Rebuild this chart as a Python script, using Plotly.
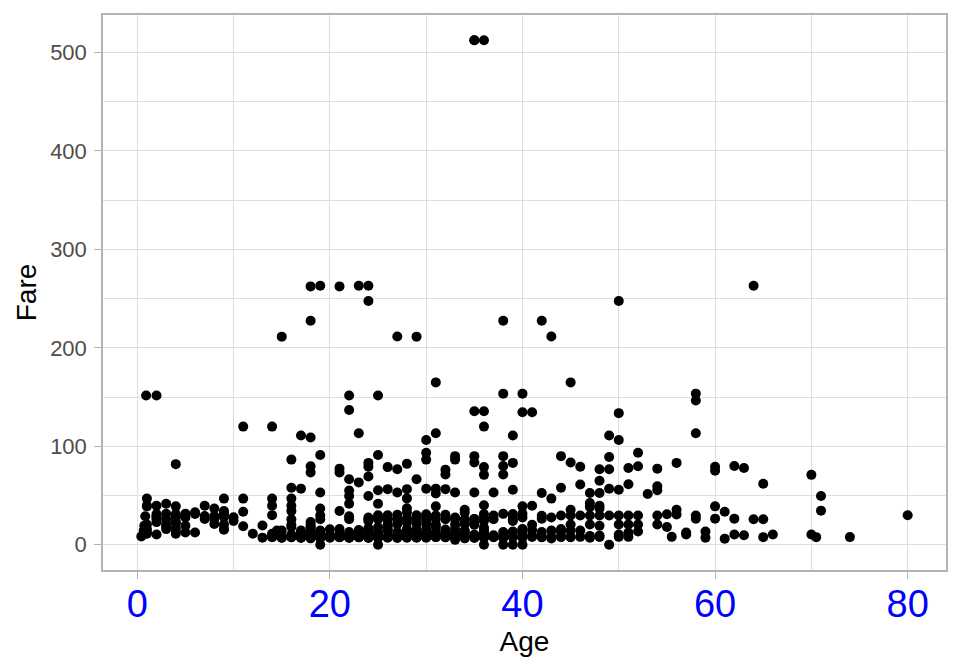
import plotly.graph_objects as go

# Ages (one entry per age value) and the fares observed at that age
age_values = [
    0.42, 0.67, 0.75, 0.83, 0.92, 1, 2, 3, 4, 5, 6, 7, 8, 9, 10, 11, 12, 13, 14, 14.5,
    15, 16, 17, 18, 19, 20, 21, 22, 23, 24, 25, 26, 27, 28, 29, 30,
    31, 32, 33, 34, 35, 36, 37, 38, 39, 40, 41, 42, 43, 44, 45, 46, 47, 48, 49, 50,
    51, 52, 53, 54, 55, 55.5, 56, 57, 58, 59, 60, 61, 62, 63, 64, 65, 66, 70, 70.5, 71, 74, 80,
]
fare_values = [
    [8.52],
    [14.5],
    [19.26, 19.26],
    [29, 18.75],
    [151.55],
    [46.9, 39, 11.13, 20.575, 15.74, 12.18, 39.69],
    [151.55, 29.125, 10.46, 39.69, 27.9, 26, 31.275, 23],
    [41.58, 31.39, 15.9, 26, 21.075, 18.75],
    [81.86, 29.125, 16.7, 27.9, 11.13, 39, 13.42, 23, 31.275, 22.025],
    [19.26, 27.75, 31.39, 12.475],
    [33, 31.275, 12.475],
    [39.69, 29.125, 26.25],
    [21.075, 26.25, 36.75, 29.125],
    [46.9, 34.375, 31.275, 27.9, 31.39, 15.25, 20.525, 15.9],
    [24.15, 27.9],
    [120, 46.9, 18.79, 33.5],
    [11.24],
    [19.5, 7.23],
    [120, 46.9, 39.69, 30.07, 11.24, 7.85, 9.225, 7.75],
    [14.45],
    [211.34, 7.225, 14.45, 8.03, 7.23],
    [86.5, 57.98, 46.9, 39.69, 34.375, 26, 18, 9.5, 7.75, 8.05, 10.5, 7.73, 20.25, 9.22],
    [110.88, 57, 7.23, 8.66, 14.46, 10.5, 7.925, 7.125, 7.73, 12],
    [262.375, 227.525, 108.9, 79.65, 73.5, 7.775, 7.85, 8.05, 11.5, 13, 14.45, 17.8, 18, 20.21, 23, 9.35, 6.5, 7.75],
    [263, 91.08, 53.1, 36.75, 30, 0, 7.05, 7.9, 8.05, 10.17, 14.5, 26, 6.75, 7.65, 7.775, 13],
    [7.925, 9.225, 7.05, 8.05, 9.85, 7.85, 9.5, 15.74],
    [262.375, 77.29, 73.5, 34.375, 7.8, 8.05, 7.925, 10.5, 11.5, 8.43, 7.73, 16.1, 9.825, 7.75],
    [151.55, 136.78, 66.6, 55, 49.5, 41.58, 29, 7.25, 7.925, 7.23, 10.52, 9.35, 7.8, 7.9, 10.5, 13, 8.05, 7.75, 9, 26],
    [263, 113.275, 63.36, 7.55, 15.05, 7.85, 13.79, 7.925, 10.5, 13, 8.05, 7.9],
    [263, 247.52, 83.16, 79.2, 69.3, 49.5, 7.14, 8.05, 13, 26, 27.72, 16.7, 15.85, 7.5, 14.5, 24.15, 10.5, 7.8, 7.05],
    [151.55, 91.08, 55.44, 41.58, 0, 7.05, 7.25, 7.65, 7.74, 7.775, 7.9, 7.925, 10.5, 13, 17.8, 26, 30, 26.55],
    [78.85, 56.5, 7.775, 7.89, 8.66, 14.45, 16.1, 18.79, 20.575, 25.93, 30, 7.225, 26],
    [211.5, 76.73, 53.1, 7.8, 7.925, 8.66, 10.5, 11.13, 13, 21, 26, 30.5, 7.88, 6.975],
    [82.17, 56.5, 47.1, 37, 7.25, 7.9, 7.925, 8.05, 9.5, 10.5, 13, 14.4, 15.85, 22.525, 26, 26.55, 33, 7.775],
    [211.34, 66.6, 7.75, 7.775, 7.925, 8.05, 9.48, 10.5, 13, 15.25, 21, 26, 27.72, 30, 7.05],
    [106.425, 93.5, 86.5, 56.93, 7.225, 7.9, 8.05, 9.5, 10.5, 12.475, 13, 16.1, 21, 24.15, 27.75, 31, 7.63],
    [164.87, 113.275, 57, 52, 39, 7.775, 7.85, 7.925, 8.68, 10.5, 13, 18, 20.525, 26.25, 29.7],
    [76.29, 71.28, 56.5, 7.75, 7.85, 7.925, 8.05, 8.36, 10.5, 13, 15.5, 26, 30.5, 7.58],
    [90, 86.5, 53.1, 5, 7.775, 7.85, 7.9, 8.65, 9.5, 12.275, 15.85, 20.525, 26, 27.75],
    [35.5, 6.5, 8.05, 10.5, 13, 14.4, 21, 23, 26, 32.5, 7.85],
    [512.33, 512.33, 135.63, 90, 83.475, 53.1, 7.05, 7.125, 8.05, 10.5, 20.25, 21, 26, 26.29, 7.75],
    [512.33, 135.63, 120, 78.85, 71, 40.125, 0, 7.25, 7.5, 7.9, 9.5, 10.5, 12.875, 13, 15.55, 17.4, 24.15, 26, 26.39, 27.75, 31.275],
    [53.1, 7.925, 9.59, 26, 29.7, 7.75],
    [227.525, 153.46, 90, 80, 71.28, 0, 7.05, 7.23, 7.9, 8.66, 13, 31.39, 7.775],
    [110.88, 83.16, 55.9, 0, 7.925, 13, 24.15, 26, 29.125, 31.275, 13.42, 7.9],
    [153.46, 134.5, 39, 0, 7.225, 7.9, 9.475, 13, 15.5, 16, 27.72, 31.39],
    [134.5, 39.69, 20.21, 7.85, 9.5, 15.05],
    [227.525, 52.55, 29.5, 26.55, 7.55, 8.4, 13],
    [211.5, 46.9, 27.72, 8.05, 6.45, 14.4],
    [90, 57.98, 29.7, 8.05, 7.925, 16.1, 13],
    [164.87, 83.475, 35.5, 29.7, 20.5, 8.05, 7.75, 14.45],
    [79.2, 61.175, 29.7, 8.05, 14.5],
    [52.55, 42.4, 38.5, 29.7, 20.5, 9, 7.25],
    [76.73, 65, 52.55, 39.6, 36.75, 29.7, 19.26, 9.5, 7.85],
    [110.88, 89.1, 76.73, 56.93, 29.7, 0],
    [247.52, 133.65, 106.425, 55.9, 29.7, 20.5, 8.05, 10.5],
    [77.96, 61.38, 29.7, 20.5, 8.05, 12.525],
    [93.5, 79.65, 29.7, 20.5, 13.5],
    [51.48],
    [77.29, 59.4, 55.44, 29.7, 20.5],
    [31, 18],
    [8.05],
    [83.16, 35.5, 30.7],
    [12.35, 10.5],
    [153.46, 146.52, 113.275, 29.7, 26.55],
    [13.5, 7.25],
    [79.2, 75.25, 39, 26.55],
    [33.5, 6.24],
    [80, 26.55, 10.5],
    [77.96, 9.59],
    [263, 26],
    [61.98, 26, 7.75],
    [10.5],
    [71, 10.5],
    [7.75],
    [49.5, 34.65],
    [7.775],
    [30],
]

x_ticks = [0, 20, 40, 60, 80]
y_ticks = [0, 100, 200, 300, 400, 500]

ages, fares = [], []
for a, fl in zip(age_values, fare_values):
    for f in fl:
        ages.append(a)
        fares.append(f)

fig = go.Figure(go.Scatter(
    x=ages, y=fares, mode="markers",
    marker=dict(color="black", size=10, line=dict(width=0)),
    hoverinfo="x+y",
))

FONT = "Liberation Sans, Arial, sans-serif"
amin, amax = min(ages), max(ages)
fmin, fmax = min(fares), max(fares)
xpad = (amax - amin) * 0.05
ypad = (fmax - fmin) * 0.05

# the page body adds an 8 px offset; margins compensate for it
fig.update_layout(
    width=960, height=672,
    margin=dict(l=95, r=22, t=7, b=110),
    paper_bgcolor="white", plot_bgcolor="white",
    showlegend=False,
    font=dict(family=FONT),
)
fig.update_xaxes(
    range=[amin - xpad, amax + xpad],
    tickvals=x_ticks,
    tickfont=dict(size=38, color="#0000FF", family=FONT),
    ticks="outside", ticklen=7, tickcolor="#B3B3B3", tickwidth=1,
    ticklabelstandoff=-7,
    showline=True, mirror=True, linecolor="#B3B3B3", linewidth=1.5,
    showgrid=True, gridcolor="#DEDEDE", gridwidth=1,
    minor=dict(dtick=10, tick0=0, showgrid=True, gridcolor="#DEDEDE", gridwidth=0.8),
    zeroline=False, automargin=False,
    title=dict(text="Age", font=dict(size=28, color="black", family=FONT), standoff=7),
)
fig.update_yaxes(
    range=[fmin - ypad, fmax + ypad],
    tickvals=y_ticks,
    tickfont=dict(size=22, color="#4D4D4D", family=FONT),
    ticks="outside", ticklen=7, tickcolor="#B3B3B3", tickwidth=1,
    ticklabelstandoff=3,
    showline=True, mirror=True, linecolor="#B3B3B3", linewidth=1.5,
    showgrid=True, gridcolor="#DEDEDE", gridwidth=1,
    minor=dict(dtick=50, tick0=0, showgrid=True, gridcolor="#DEDEDE", gridwidth=0.8),
    zeroline=False, automargin=False,
    title=dict(text="Fare", font=dict(size=28, color="black", family=FONT), standoff=5),
)

fig.write_html("out.html")
